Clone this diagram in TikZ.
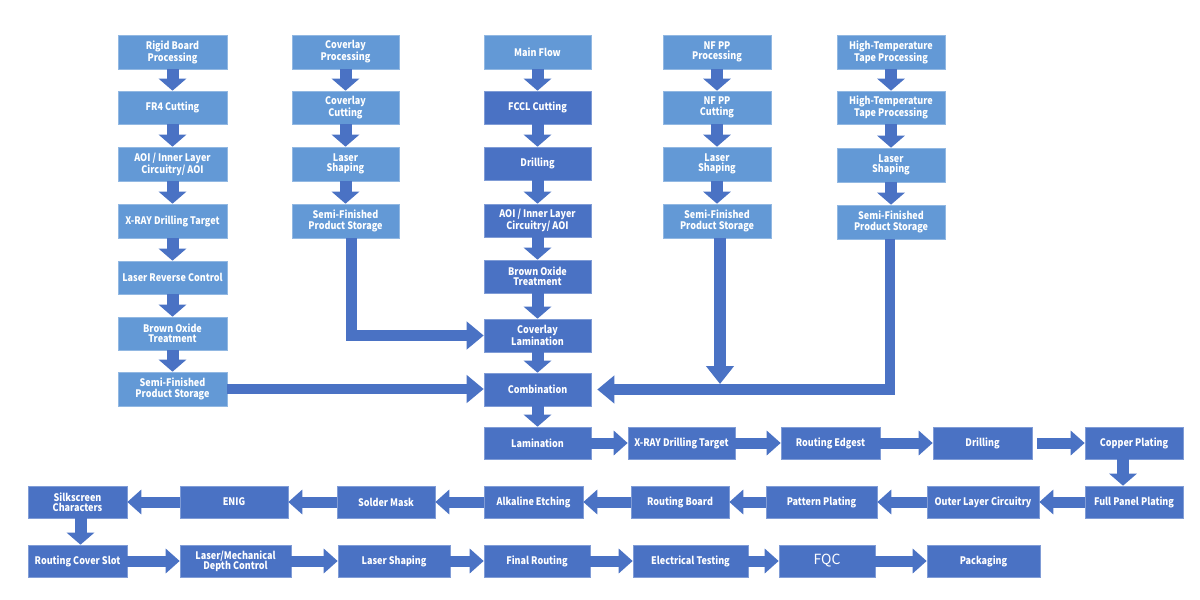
\documentclass[tikz,border=0pt]{standalone}
\usepackage{fontspec}
\newfontfamily\lblfont[FakeStretch=0.87]{Noto Sans CJK SC}
\newfontfamily\fqcfont{Noto Sans CJK SC}
\usetikzlibrary{arrows.meta}
\definecolor{lb}{HTML}{6399D6}
\definecolor{db}{HTML}{4A72C4}
\definecolor{ar}{HTML}{4A72C4}
\tikzset{
  box/.style={inner sep=0pt, align=center, text=white, draw=white!30!#1, line width=0.6pt, fill=#1,
    font=\lblfont\bfseries\fontsize{10.4}{10.4}\selectfont},
  dn/.style={draw=ar, line width=12pt, -{Triangle[width=27pt,length=12pt]}},
  hz/.style={draw=ar, line width=11pt, -{Triangle[width=24pt,length=14pt]}},
  big/.style={draw=ar, line width=10.5pt, line join=miter, -{Triangle[width=27pt,length=17pt]}}
}
\newcommand\bx[7][lb]{\node[box=#1, minimum width={#4pt-#2pt}, minimum height={#5pt-#3pt}]
  (#7) at ({(#2+#4)/2},{(#3+#5)/2}) {#6};}
\begin{document}
\begin{tikzpicture}[x=1pt,y=-1pt]
\useasboundingbox[fill=white] (0,0) rectangle (1200,600);
% column 1
\bx{118}{35}{227}{69}{Rigid Board\\Processing}{r1}
\bx{118}{91}{227}{124}{FR4 Cutting}{r2}
\bx{118}{147}{227}{181}{AOI / Inner Layer\\Circuitry/ AOI}{r3}
\bx{118}{204}{227}{238}{X-RAY Drilling Target}{r4}
\bx{118}{261}{227}{294}{Laser Reverse Control}{r5}
\bx{118}{317}{227}{350}{Brown Oxide\\Treatment}{r6}
\bx{118}{372}{227}{406}{Semi-Finished\\Product Storage}{r7}
% column 2
\bx{292}{35}{399}{69}{Coverlay\\Processing}{c1}
\bx{292}{91}{399}{124}{Coverlay\\Cutting}{c2}
\bx{292}{147}{399}{181}{Laser\\Shaping}{c3}
\bx{292}{204}{399}{238}{Semi-Finished\\Product Storage}{c4}
% main column
\bx{484}{35}{591}{69}{Main Flow}{m1}
\bx[db]{484}{91}{591}{124}{FCCL Cutting}{m2}
\bx[db]{484}{147}{591}{180}{Drilling}{m3}
\bx[db]{484}{204}{591}{237}{AOI / Inner Layer\\Circuitry/ AOI}{m4}
\bx[db]{484}{260}{591}{293}{Brown Oxide\\Treatment}{m5}
\bx[db]{484}{319}{591}{352}{Coverlay\\Lamination}{m6}
\bx[db]{484}{373}{591}{406}{Combination}{m7}
\bx[db]{484}{427}{591}{459}{Lamination}{m8}
% column 4
\bx{663}{35}{771}{69}{NF PP\\Processing}{n1}
\bx{663}{91}{771}{124}{NF PP\\Cutting}{n2}
\bx{663}{147}{771}{181}{Laser\\Shaping}{n3}
\bx{663}{204}{771}{238}{Semi-Finished\\Product Storage}{n4}
% column 5
\bx{837}{35}{945}{69}{High-Temperature\\Tape Processing}{h1}
\bx{837}{91}{945}{124}{High-Temperature\\Tape Processing}{h2}
\bx{837}{148}{945}{182}{Laser\\Shaping}{h3}
\bx{837}{205}{945}{239}{Semi-Finished\\Product Storage}{h4}
% row 2
\bx[db]{628}{427}{735}{459}{X-RAY Drilling Target}{a1}
\bx[db]{781}{427}{880}{459}{Routing Edgest}{a2}
\bx[db]{933}{427}{1032}{459}{Drilling}{a3}
\bx[db]{1085}{427}{1183}{459}{Copper Plating}{a4}
% row 3
\bx[db]{1085}{486}{1183}{518}{Full Panel Plating}{b8}
\bx[db]{927}{486}{1039}{518}{Outer Layer Circuitry}{b7}
\bx[db]{766}{486}{877}{518}{Pattern Plating}{b6}
\bx[db]{631}{486}{729}{518}{Routing Board}{b5}
\bx[db]{484}{486}{583}{518}{Alkaline Etching}{b4}
\bx[db]{337}{486}{435}{518}{Solder Mask}{b3}
\bx[db]{180}{486}{288}{518}{ENIG}{b2}
\bx[db]{28}{486}{127}{518}{Silkscreen\\Characters}{b1}
% row 4
\bx[db]{28}{545}{127}{577}{Routing Cover Slot}{d1}
\bx[db]{180}{545}{291}{577}{Laser/Mechanical\\Depth Control}{d2}
\bx[db]{338}{545}{450}{577}{Laser Shaping}{d3}
\bx[db]{484}{545}{590}{577}{Final Routing}{d4}
\bx[db]{633}{545}{748}{577}{Electrical Testing}{d5}
\node[box=db, minimum width=96pt, minimum height=32pt, font=\fqcfont\fontsize{14}{14}\selectfont] (d6) at (827,561) {FQC};
\bx[db]{927}{545}{1040}{577}{Packaging}{d7}
% vertical arrows
\foreach \a/\b in {r1/r2,r2/r3,r3/r4,r4/r5,r5/r6,r6/r7,c1/c2,c2/c3,c3/c4,
  m1/m2,m2/m3,m3/m4,m4/m5,m5/m6,m6/m7,m7/m8,n1/n2,n2/n3,n3/n4,h1/h2,h2/h3,h3/h4}
  \draw[dn] (\a.south) -- (\b.north);
\draw[dn] ([xshift=-11pt]a4.south) -- ([xshift=-11pt]b8.north);
\draw[dn] ([xshift=3pt]b1.south) -- ([xshift=3pt]b1.south |- d1.north);
% horizontal arrows
\foreach \a/\b in {m8/a1,a1/a2,a2/a3,b8/b7,b7/b6,b6/b5,b5/b4,b4/b3,b3/b2,b2/b1,
  d1/d2,d2/d3,d3/d4,d4/d5,d5/d6,d6/d7}
  \draw[hz] (\a) -- (\b);
\draw[hz, shorten <=5pt] (a3) -- (a4);
% merge arrows
\draw[big] ([xshift=6pt]c4.south) |- (m6.west);
\draw[big] (r7.east) -- (r7.east -| m7.west);
\coordinate (nend) at (720,384);
\draw[dn, -{Triangle[width=27pt,length=18pt]}] ([xshift=3pt]n4.south) -- (nend);
\draw[big] ([xshift=-1pt]h4.south) |- ([xshift=6pt]m7.east);
\end{tikzpicture}
\end{document}
